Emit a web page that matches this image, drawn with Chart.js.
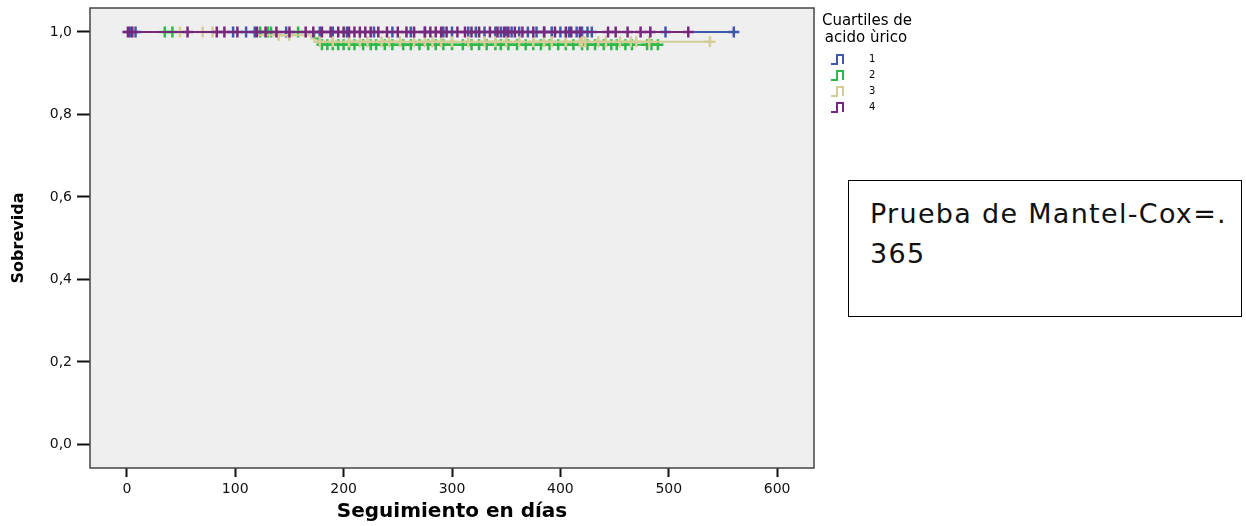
<!DOCTYPE html>
<html>
<head>
<meta charset="utf-8">
<script src="https://cdn.jsdelivr.net/npm/chart.js@4"></script>
<style>
  body { margin: 0; background: #fff; }
  #wrap { position: relative; width: 1246px; height: 526px; }
  #note {
    position: absolute; left: 848px; top: 180px; width: 394px; height: 137px;
    border: 1px solid #000; box-sizing: border-box; background: #fff;
    font-family: "DejaVu Sans", sans-serif; font-size: 27px; line-height: 40px;
    letter-spacing: 1.3px; padding: 13px 0 0 21px; color: #111;
  }
</style>
</head>
<body>
<div id="wrap">
  <canvas id="myChart" width="1246" height="526"></canvas>
  <div id="note">Prueba de Mantel-Cox=.<br>365</div>
</div>
<script>
// Group labels and colours
const groupLabels = ['1', '2', '3', '4'];
const groupColors = ['#4058a8', '#2db84a', '#d4cd98', '#76297c'];

// Event times and survival after each event, per quartile
const events1 = [];
const surv1 = [];
const events2 = [173, 177];
const surv2 = [0.984, 0.969];
const events3 = [121, 170, 173];
const surv3 = [0.992, 0.984, 0.976];
const events4 = [];
const surv4 = [];

// Censored times per quartile
const censored1 = [3, 8, 98, 110, 118, 147, 178, 190, 203, 228, 245, 262, 275, 292, 300, 315, 322, 330, 340, 345,
  350, 355, 362, 370, 378, 385, 392, 400, 408, 415, 420, 425, 429, 497, 560];
const censored2 = [35, 42, 123, 130, 133, 158, 180, 185, 190, 195, 200, 205, 210, 218, 225, 230, 238, 245, 255, 262,
  270, 278, 285, 292, 300, 310, 318, 325, 332, 340, 345, 352, 360, 368, 375, 382, 390, 398, 405, 412, 420, 425,
  432, 440, 447, 452, 460, 466, 480, 484, 490];
const censored3 = [49, 70, 79, 140, 150, 178, 190, 205, 215, 222, 235, 242, 252, 265, 275, 282, 290, 300, 315, 330,
  340, 350, 362, 375, 385, 392, 405, 418, 420, 423, 435, 442, 455, 465, 470, 482, 538];
const censored4 = [1, 5, 56, 83, 90, 102, 120, 128, 138, 150, 165, 172, 180, 188, 195, 200, 205, 210, 215, 220, 225,
  232, 240, 250, 258, 265, 275, 280, 285, 290, 295, 305, 312, 318, 325, 335, 342, 348, 352, 358, 365, 375, 385,
  395, 405, 410, 418, 444, 451, 462, 474, 483, 518];

// Axis ticks
const xTicks = [0, 100, 200, 300, 400, 500, 600];
const yTicks = [0, 0.2, 0.4, 0.6, 0.8, 1.0];

const groups = [
  { events: events1, surv: surv1, censored: censored1 },
  { events: events2, surv: surv2, censored: censored2 },
  { events: events3, surv: surv3, censored: censored3 },
  { events: events4, surv: surv4, censored: censored4 }
];

// draw order: purple on top, then tan, blue, green
const drawOrder = [3, 4, 2, 1];

function survivalAt(g, t) {
  let s = 1;
  g.events.forEach((e, i) => { if (e <= t) s = g.surv[i]; });
  return s;
}

const datasets = [];
groups.forEach((g, i) => {
  const last = Math.max(...g.censored, ...(g.events.length ? g.events : [0]));
  const line = [{ x: 0, y: 1 }];
  g.events.forEach((e, k) => line.push({ x: e, y: g.surv[k] }));
  line.push({ x: last, y: survivalAt(g, last) });
  datasets.push({
    label: groupLabels[i],
    data: line,
    showLine: true,
    stepped: 'before', // horizontal first, then drop
    borderColor: groupColors[i],
    borderWidth: 2,
    pointRadius: 0,
    order: drawOrder[i] + 0.5
  });
  datasets.push({
    label: groupLabels[i] + '-censurado',
    data: g.censored.map(t => ({ x: t, y: survivalAt(g, t) })),
    showLine: false,
    pointStyle: 'cross',
    pointRadius: 5.5,
    pointBorderWidth: 2.5,
    borderColor: groupColors[i],
    backgroundColor: groupColors[i],
    order: drawOrder[i]
  });
});

// Plot background, frame and legend
const decorPlugin = {
  id: 'decor',
  beforeDatasetsDraw(chart) {
    const a = chart.chartArea;
    const c = chart.ctx;
    c.save();
    c.fillStyle = '#efefef';
    c.fillRect(a.left, a.top, a.right - a.left, a.bottom - a.top);
    c.restore();
  },
  afterDraw(chart) {
    const a = chart.chartArea;
    const c = chart.ctx;
    c.save();
    c.strokeStyle = '#444';
    c.lineWidth = 1.5;
    c.strokeRect(a.left, a.top, a.right - a.left, a.bottom - a.top);

    // legend
    c.fillStyle = '#000';
    c.font = '15px "DejaVu Sans", sans-serif';
    c.textAlign = 'center';
    c.textBaseline = 'middle';
    c.fillText('Cuartiles de', 867, 21);
    c.fillText('acido ùrico', 866, 38);
    c.textAlign = 'left';
    c.font = '10px "DejaVu Sans", sans-serif';
    groupLabels.forEach((lab, i) => {
      const y = 60 + i * 16;
      c.strokeStyle = groupColors[i];
      c.lineWidth = 2;
      c.beginPath();
      c.moveTo(831, y + 4);
      c.lineTo(837, y + 4);
      c.lineTo(837, y - 5);
      c.lineTo(843, y - 5);
      c.lineTo(843, y + 4);
      c.stroke();
      c.fillText(lab, 869, y - 1);
    });
    c.restore();
  }
};

const ctx = document.getElementById('myChart').getContext('2d');
const tickFont = { family: '"DejaVu Sans", sans-serif', size: 14 };

new Chart(ctx, {
  type: 'scatter',
  data: { datasets: datasets },
  options: {
    responsive: false,
    animation: false,
    layout: { padding: { left: 0, top: 7, right: 432, bottom: 0 } },
    plugins: { legend: { display: false }, tooltip: { enabled: false } },
    scales: {
      x: {
        type: 'linear',
        min: -34,
        max: 634,
        afterBuildTicks: scale => { scale.ticks = xTicks.map(v => ({ value: v })); },
        afterFit: scale => { scale.height = 58; scale.paddingLeft = 0; scale.paddingRight = 0; },
        grid: { drawOnChartArea: false, drawTicks: true, tickLength: 9, tickColor: '#111', tickWidth: 2 },
        border: { display: false },
        ticks: { color: '#111', font: tickFont, padding: 4, maxRotation: 0 },
        title: {
          display: true, text: 'Seguimiento en días', color: '#000',
          font: { family: '"DejaVu Sans", sans-serif', size: 20, weight: 'bold' },
          padding: { top: 0, bottom: 2 }
        }
      },
      y: {
        type: 'linear',
        min: -0.057,
        max: 1.058,
        afterBuildTicks: scale => { scale.ticks = yTicks.map(v => ({ value: v })); },
        afterFit: scale => { scale.width = 90; scale.paddingTop = 0; scale.paddingBottom = 0; },
        grid: { drawOnChartArea: false, drawTicks: true, tickLength: 13, tickColor: '#111', tickWidth: 2 },
        border: { display: false },
        ticks: {
          color: '#111', font: tickFont, padding: 5,
          callback: v => v.toFixed(1).replace('.', ',')
        },
        title: {
          display: true, text: 'Sobrevida', color: '#000',
          font: { family: '"DejaVu Sans", sans-serif', size: 16, weight: 'bold' },
          padding: { top: 9, bottom: 0 }
        }
      }
    }
  },
  plugins: [decorPlugin]
});
</script>
</body>
</html>
